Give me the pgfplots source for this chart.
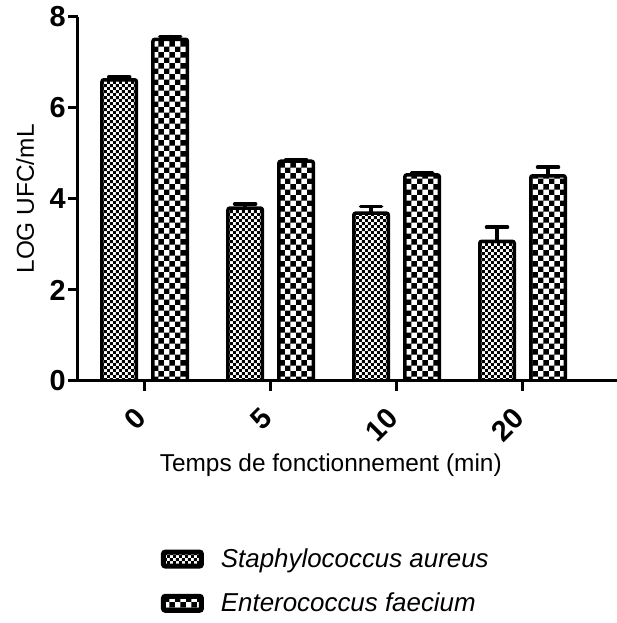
\documentclass[border=0pt]{standalone}
\usepackage{fontspec}
\setmainfont{Liberation Sans}
\usepackage{pgfplots}
\pgfplotsset{compat=1.18}
\usetikzlibrary{patterns.meta}

% fine and coarse checkerboards
\pgfdeclarepattern{name=finecheck, type=uncolored,
  bottom left={\pgfpointorigin}, top right={\pgfpoint{6bp}{6bp}},
  tile size={\pgfpoint{6bp}{6bp}},
  code={\pgfpathrectangle{\pgfpointorigin}{\pgfpoint{3bp}{3bp}}
        \pgfpathrectangle{\pgfpoint{3bp}{3bp}}{\pgfpoint{3bp}{3bp}}
        \pgfusepath{fill}}}
\pgfdeclarepattern{name=coarsecheck, type=uncolored,
  bottom left={\pgfpointorigin}, top right={\pgfpoint{11bp}{11bp}},
  tile size={\pgfpoint{11bp}{11bp}},
  code={\pgfpathrectangle{\pgfpointorigin}{\pgfpoint{5.5bp}{5.5bp}}
        \pgfpathrectangle{\pgfpoint{5.5bp}{5.5bp}}{\pgfpoint{5.5bp}{5.5bp}}
        \pgfusepath{fill}}}

\begin{document}
\begin{tikzpicture}
\begin{axis}[
  width=539bp, height=364bp, scale only axis,
  ybar, bar width=34.5bp,
  xmin=-0.53, xmax=3.75, ymin=0, ymax=8,
  axis x line*=bottom, axis y line*=left,
  axis line style={line width=3bp},
  xtick={0,1,2,3}, xticklabels={0,5,10,20},
  ytick={0,2,4,6,8},
  tick align=outside, major tick length=10bp,
  tick style={line width=3bp, black},
  yticklabel style={font=\fontsize{29}{29}\selectfont\bfseries,
    /pgf/number format/assume math mode=true, inner sep=2bp},
  xticklabel style={font=\fontsize{29}{29}\selectfont\bfseries,
    xshift=-1bp, yshift=-20bp, rotate=45, anchor=east},
  xlabel={Temps de fonctionnement (min)},
  ylabel={LOG UFC/mL},
  label style={font=\fontsize{24.5}{24.5}\selectfont},
  xlabel style={at={(rel axis cs:0.469,-0.231)}, anchor=center},
  ylabel style={at={(rel axis cs:-0.098,0.5)}, anchor=center},
  every axis plot/.append style={draw=black, line width=3.5bp,
    rounded corners=2bp},
  error bars/y dir=plus, error bars/y explicit,
  error bars/error bar style={line width=3.5bp, black, line cap=round},
  error bars/error mark options={line width=3.5bp, black, mark size=10.5bp,
    rotate=90, line cap=round},
  legend style={at={(rel axis cs:0.148,-0.45)}, anchor=north west,
    draw=none, fill=none, font=\fontsize{26}{26}\selectfont\itshape,
    row sep=20bp, legend cell align=left,
    /tikz/every odd column/.append style={column sep=15bp}},
  legend image code/.code={%
    \draw[#1, line width=5bp, rounded corners=2bp]
      (2.5bp,-7bp) rectangle (40.5bp,7bp);},
]
\addplot[bar shift=-25.5bp, pattern=finecheck]
  coordinates {(0,6.62) +- (0,0.06) (1,3.80) +- (0,0.09) (2,3.69) +- (0,0.14) (3,3.07) +- (0,0.31)};
\addlegendentry{Staphylococcus aureus}
\addplot[bar shift=25.5bp, pattern=coarsecheck]
  coordinates {(0,7.51) +- (0,0.06) (1,4.83) +- (0,0.03) (2,4.53) +- (0,0.05) (3,4.51) +- (0,0.19)};
\addlegendentry{Enterococcus faecium}
\coordinate (bl) at (rel axis cs:-0.1447,-0.665);
\coordinate (tr) at (rel axis cs:1,1.0467);
\end{axis}
\pgfresetboundingbox
\useasboundingbox (bl) rectangle (tr);
\end{tikzpicture}
\end{document}
